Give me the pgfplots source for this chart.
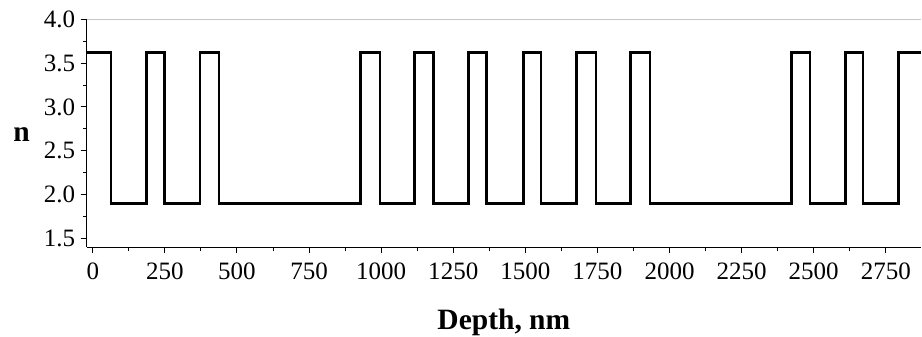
\documentclass[border=0pt]{standalone}
\usepackage{fontspec}
\setmainfont{Liberation Serif}
\usepackage{pgfplots}
\pgfplotsset{compat=1.18}
\begin{document}
\begin{tikzpicture}
\begin{axis}[
  name=ax,
  scale only axis,
  width=834bp, height=227.7bp,
  xmin=-21, xmax=2872, ymin=1.4, ymax=4.0,
  axis x line*=bottom, axis y line*=left,
  axis line style={line width=1bp,-,black},
  xtick={0,250,...,2750}, ytick={1.5,2.0,2.5,3.0,3.5,4.0},
  minor x tick num=1, minor y tick num=1,
  tick align=outside,
  major tick length=6bp, minor tick length=3.5bp,
  tick style={line width=1bp,black},
  /pgf/number format/assume math mode=true,
  ticklabel style={font=\fontsize{25bp}{27bp}\selectfont},
  xticklabel style={/pgf/number format/1000 sep={}, yshift=-6bp},
  yticklabel style={/pgf/number format/fixed,/pgf/number format/fixed zerofill,/pgf/number format/precision=1, xshift=-2bp},
  xlabel={\textbf{Depth, nm}},
  ylabel={\textbf{n}},
  label style={font=\fontsize{29.5bp}{32bp}\selectfont},
  xlabel style={at={(axis description cs:0.5,0)},anchor=base,yshift=-82.3bp},
  ylabel style={at={(axis description cs:0,0.5)},anchor=base,rotate=-90,xshift=-65bp,yshift=-8.5bp},
]
\draw[gray!45,line width=0.8bp] (rel axis cs:0,1) -- (rel axis cs:1,1);
\addplot[const plot, black, line width=2.6bp] coordinates {
(-21,3.62) (63,1.9) (187,3.62) (248,1.9) (372,3.62) (438,1.9)
(928,3.62) (996,1.9) (1115,3.62) (1181,1.9) (1302,3.62) (1366,1.9)
(1493,3.62) (1554,1.9) (1678,3.62) (1745,1.9) (1865,3.62) (1932,1.9)
(2423,3.62) (2487,1.9) (2610,3.62) (2671,1.9) (2793,3.62) (2872,3.62)
};
\end{axis}
\pgfresetboundingbox
\path (ax.south west) ++(-86.7bp,-89bp) coordinate (bl);
\path (ax.north east) ++(1bp,19.3bp) coordinate (tr);
\path (bl) rectangle (tr);
\end{tikzpicture}
\end{document}
